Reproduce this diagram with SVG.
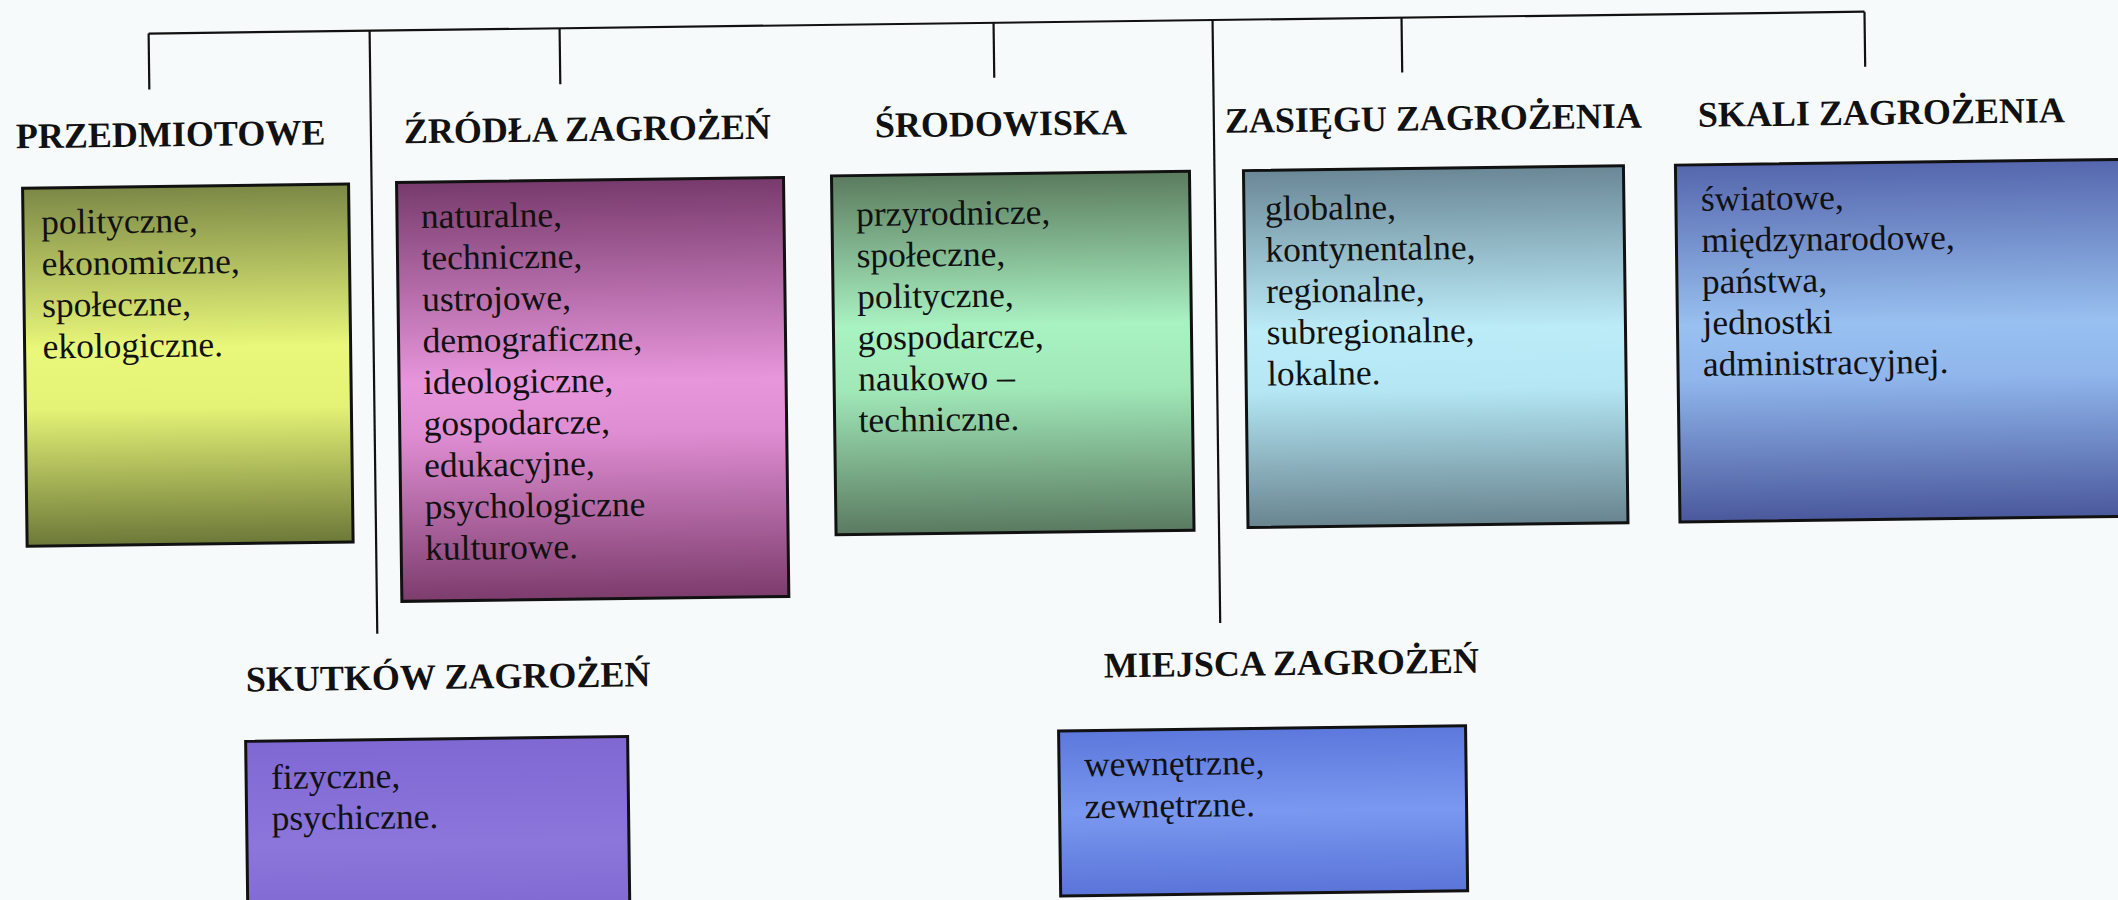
<svg xmlns="http://www.w3.org/2000/svg" width="2118" height="900" viewBox="0 0 2118 900">
<defs>
<linearGradient id="g1" x1="0" y1="0" x2="0" y2="1">
<stop offset="0" stop-color="#7b8846"/><stop offset="0.45" stop-color="#e9f77a"/><stop offset="0.62" stop-color="#e4f276"/><stop offset="1" stop-color="#6c7838"/>
</linearGradient>
<linearGradient id="g2" x1="0" y1="0" x2="0" y2="1">
<stop offset="0" stop-color="#773a6c"/><stop offset="0.48" stop-color="#e896dc"/><stop offset="0.6" stop-color="#e08ed4"/><stop offset="1" stop-color="#7c3c6c"/>
</linearGradient>
<linearGradient id="g3" x1="0" y1="0" x2="0" y2="1">
<stop offset="0" stop-color="#5b7b5e"/><stop offset="0.42" stop-color="#a9f2c2"/><stop offset="0.6" stop-color="#a0e8b8"/><stop offset="1" stop-color="#5a7a60"/>
</linearGradient>
<linearGradient id="g4" x1="0" y1="0" x2="0" y2="1">
<stop offset="0" stop-color="#6a8796"/><stop offset="0.45" stop-color="#bcecf8"/><stop offset="0.62" stop-color="#b4e6f4"/><stop offset="1" stop-color="#68848f"/>
</linearGradient>
<linearGradient id="g5" x1="0" y1="0" x2="0" y2="1">
<stop offset="0" stop-color="#5566ad"/><stop offset="0.45" stop-color="#98c0f0"/><stop offset="0.6" stop-color="#90b6ec"/><stop offset="1" stop-color="#4a589c"/>
</linearGradient>
<linearGradient id="g6" x1="0" y1="0" x2="0" y2="1">
<stop offset="0" stop-color="#7f68d2"/><stop offset="0.5" stop-color="#8c76dc"/><stop offset="1" stop-color="#7a64cc"/>
</linearGradient>
<linearGradient id="g7" x1="0" y1="0" x2="0" y2="1">
<stop offset="0" stop-color="#5c78dc"/><stop offset="0.5" stop-color="#7a98f0"/><stop offset="1" stop-color="#5a74d8"/>
</linearGradient>
<style>
.box{stroke:#111;stroke-width:3}
.hd{font-family:"Liberation Serif","Times New Roman",serif;font-weight:bold;font-size:36px;fill:#111}
.tx{font-family:"Liberation Serif","Times New Roman",serif;font-size:35.5px;fill:#111}
.ln{stroke:#111;stroke-width:2.2;fill:none}
</style>
</defs>
<rect x="0" y="0" width="2118" height="900" fill="#f7fafb"/>
<g transform="rotate(-0.73 1059 450)">
<g id="connectors">
<path class="ln" d="M154 22 H1870"/>
<path class="ln" d="M154 22 V78"/>
<path class="ln" d="M375 22 V625"/>
<path class="ln" d="M565 22 V78"/>
<path class="ln" d="M999 22 V77"/>
<path class="ln" d="M1218 22 V625"/>
<path class="ln" d="M1407 22 V77"/>
<path class="ln" d="M1870 22 V77"/>
</g>
<g id="przedmiotowe">
<text class="hd" x="20" y="135">PRZEDMIOTOWE</text>
<rect class="box" x="26" y="175" width="326" height="358" fill="url(#g1)"/>
<text class="tx" x="44" y="221">polityczne,<tspan x="44" dy="41.5">ekonomiczne,</tspan><tspan x="44" dy="41.5">społeczne,</tspan><tspan x="44" dy="41.5">ekologiczne.</tspan></text>
</g>
<g id="zrodla">
<text class="hd" x="408" y="135">ŹRÓDŁA ZAGROŻEŃ</text>
<rect class="box" x="400" y="174" width="387" height="419" fill="url(#g2)"/>
<text class="tx" x="424" y="220">naturalne,<tspan x="424" dy="41.5">techniczne,</tspan><tspan x="424" dy="41.5">ustrojowe,</tspan><tspan x="424" dy="41.5">demograficzne,</tspan><tspan x="424" dy="41.5">ideologiczne,</tspan><tspan x="424" dy="41.5">gospodarcze,</tspan><tspan x="424" dy="41.5">edukacyjne,</tspan><tspan x="424" dy="41.5">psychologiczne</tspan><tspan x="424" dy="41.5">kulturowe.</tspan></text>
</g>
<g id="srodowiska">
<text class="hd" x="879" y="135">ŚRODOWISKA</text>
<rect class="box" x="835" y="173" width="358" height="359" fill="url(#g3)"/>
<text class="tx" x="859" y="223.5">przyrodnicze,<tspan x="859" dy="41.2">społeczne,</tspan><tspan x="859" dy="41.2">polityczne,</tspan><tspan x="859" dy="41.2">gospodarcze,</tspan><tspan x="859" dy="41.2">naukowo –</tspan><tspan x="859" dy="41.2">techniczne.</tspan></text>
</g>
<g id="zasiegu">
<text class="hd" x="1229" y="135">ZASIĘGU ZAGROŻENIA</text>
<rect class="box" x="1247" y="173" width="380" height="357" fill="url(#g4)"/>
<text class="tx" x="1268" y="223">globalne,<tspan x="1268" dy="41.3">kontynentalne,</tspan><tspan x="1268" dy="41.3">regionalne,</tspan><tspan x="1268" dy="41.3">subregionalne,</tspan><tspan x="1268" dy="41.3">lokalne.</tspan></text>
</g>
<g id="skali">
<text class="hd" x="1702" y="135">SKALI ZAGROŻENIA</text>
<rect class="box" x="1679" y="173" width="480" height="357" fill="url(#g5)"/>
<text class="tx" x="1704" y="219">światowe,<tspan x="1704" dy="41.3">międzynarodowe,</tspan><tspan x="1704" dy="41.3">państwa,</tspan><tspan x="1704" dy="41.3">jednostki</tspan><tspan x="1704" dy="41.3">administracyjnej.</tspan></text>
</g>
<g id="skutkow">
<text class="hd" x="243" y="681">SKUTKÓW ZAGROŻEŃ</text>
<rect class="box" x="242" y="731" width="382" height="210" fill="url(#g6)"/>
<text class="tx" x="267" y="779">fizyczne,<tspan x="267" dy="41">psychiczne.</tspan></text>
</g>
<g id="miejsca">
<text class="hd" x="1101" y="678">MIEJSCA ZAGROŻEŃ</text>
<rect class="box" x="1055" y="731" width="407" height="165" fill="url(#g7)"/>
<text class="tx" x="1080" y="776.5">wewnętrzne,<tspan x="1080" dy="42">zewnętrzne.</tspan></text>
</g>
</g>
</svg>
